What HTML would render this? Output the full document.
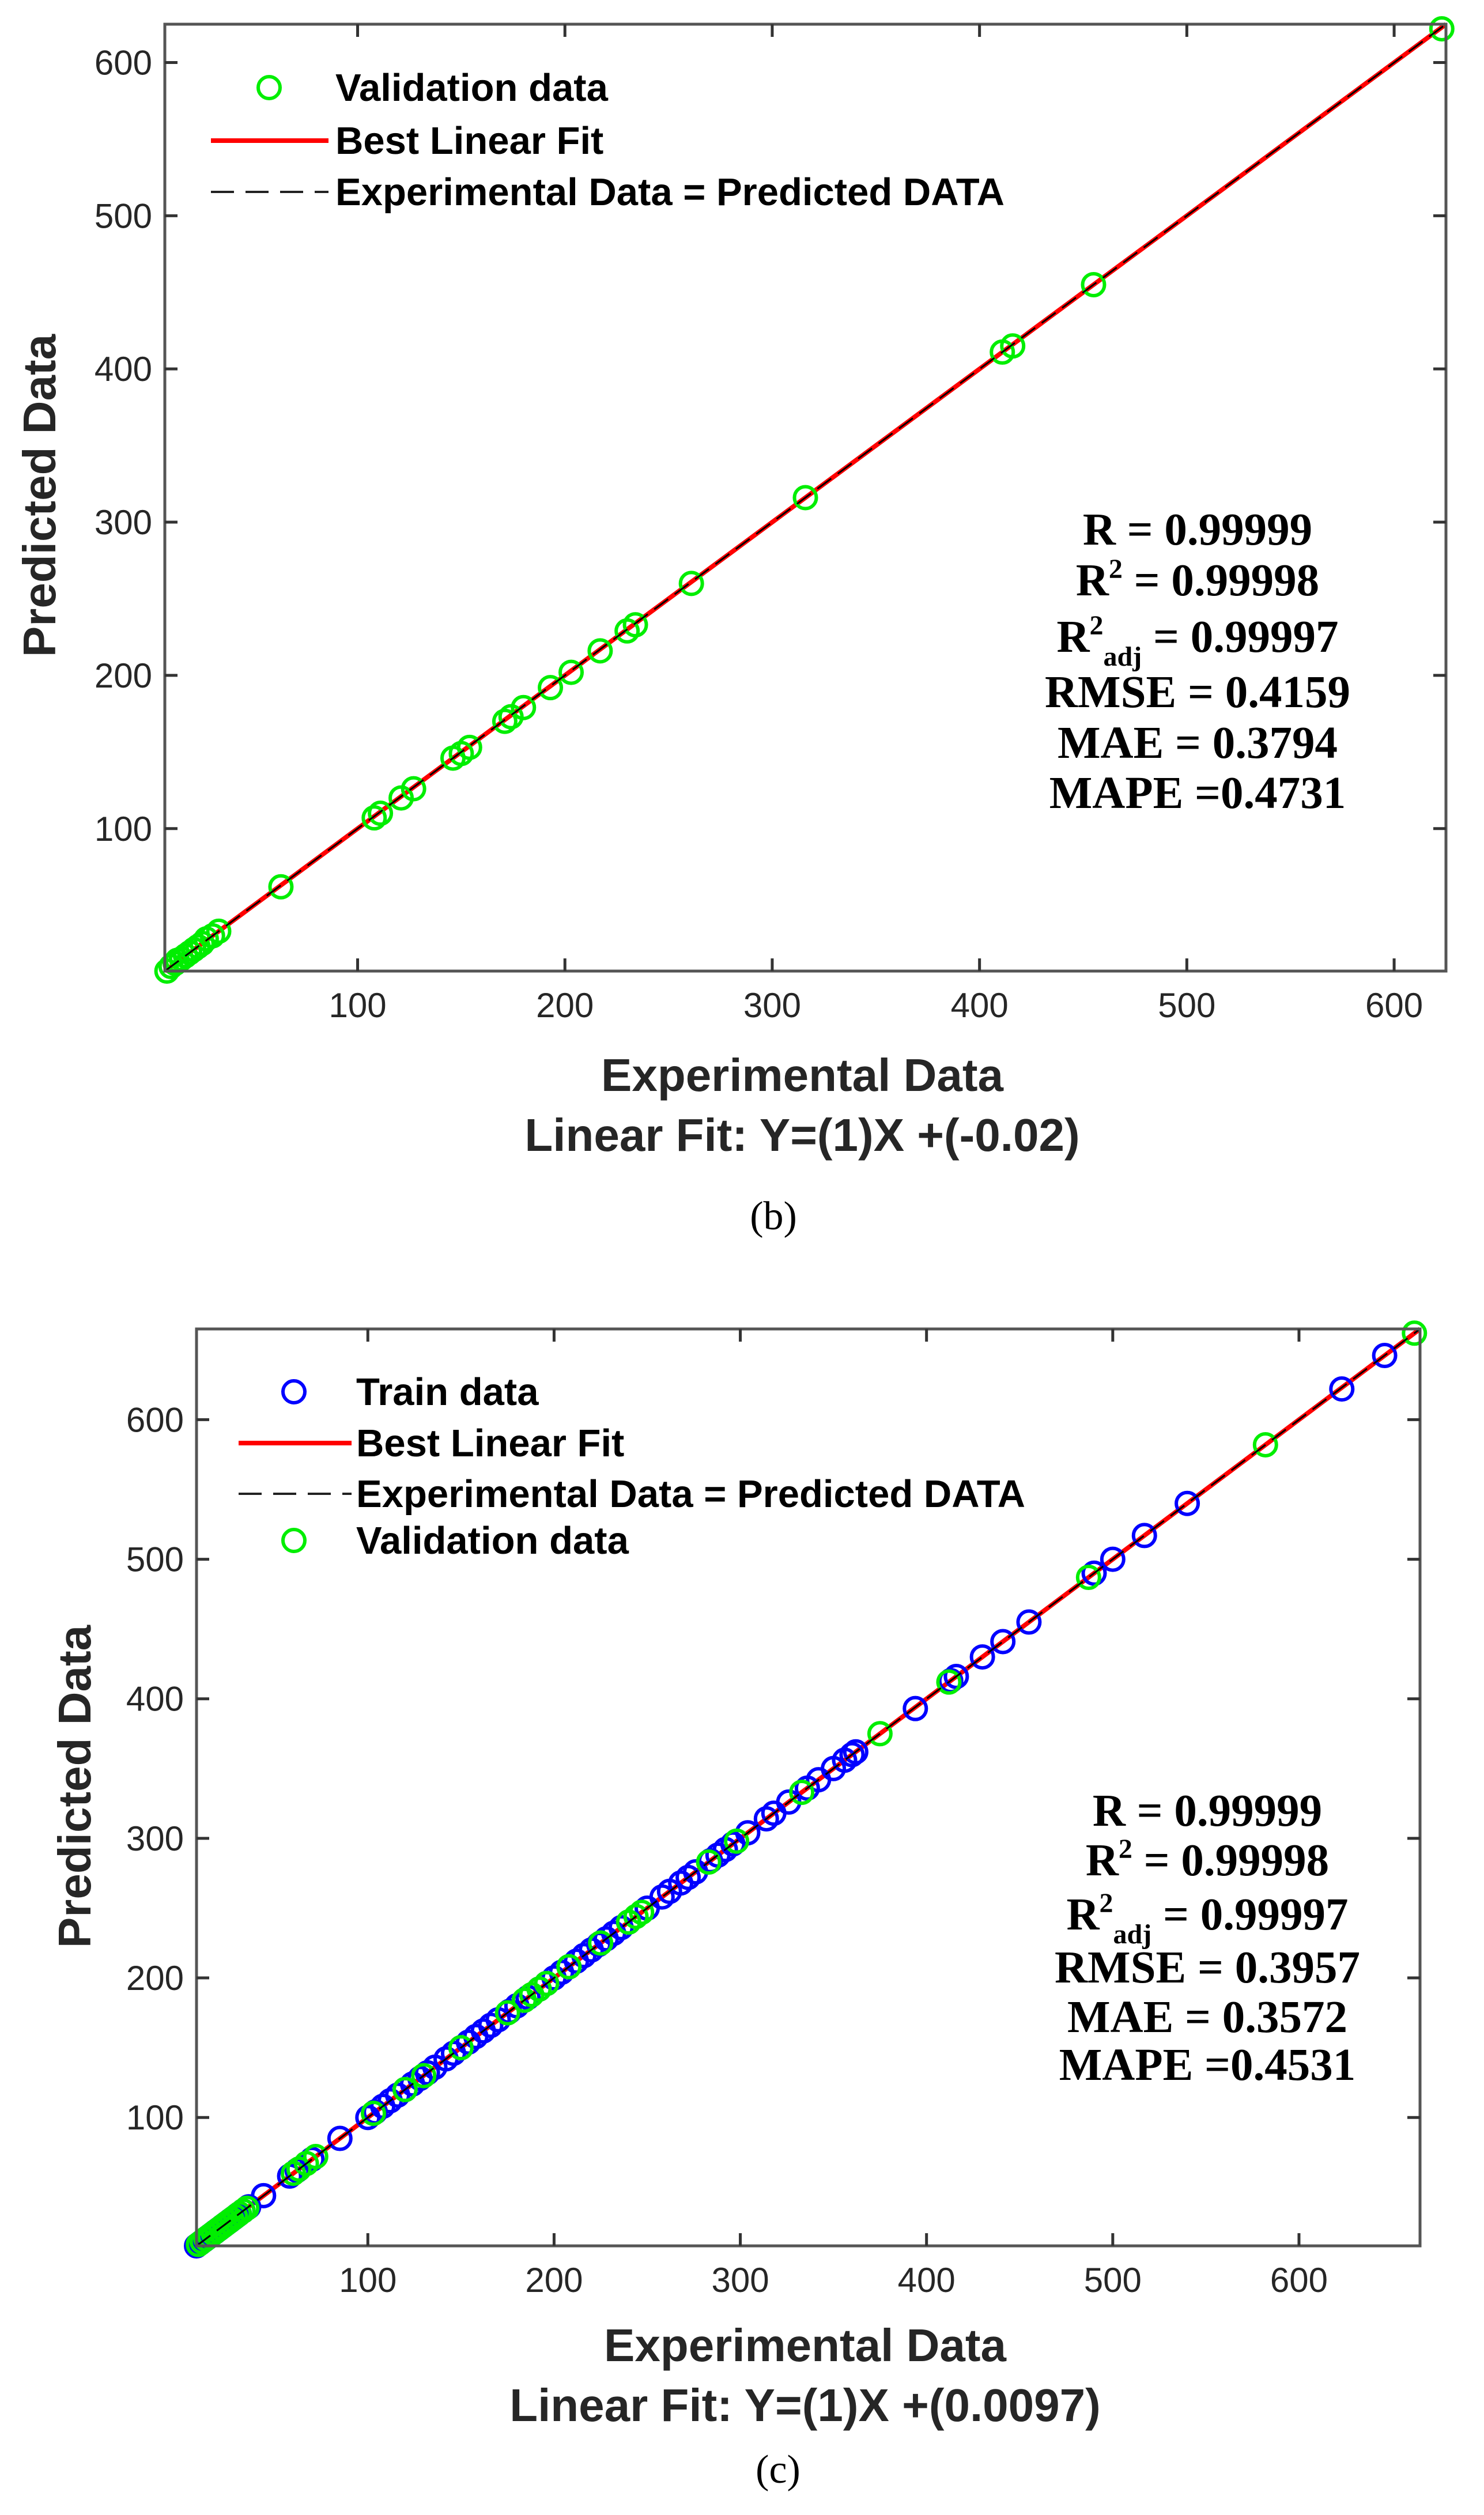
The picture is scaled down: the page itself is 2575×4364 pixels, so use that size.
<!DOCTYPE html>
<html><head><meta charset="utf-8"><style>
html,body{margin:0;padding:0;background:#fff;}
svg{display:block;}
.tick{font-family:"Liberation Sans",sans-serif;font-size:60px;fill:#262626;}
.axl{font-family:"Liberation Sans",sans-serif;font-size:80px;font-weight:bold;fill:#262626;}
.leg{font-family:"Liberation Sans",sans-serif;font-size:67px;font-weight:bold;fill:#000;}
.st{font-family:"Liberation Serif",serif;font-size:79px;font-weight:bold;fill:#000;}
.cap{font-family:"Liberation Serif",serif;font-size:70px;fill:#000;}
</style></head><body>
<svg id="fig" width="2575" height="4364" viewBox="0 0 2575 4364" xmlns="http://www.w3.org/2000/svg">
<g id="chartB"></g>
<g id="chartC"></g>
</svg>
<script>
// ---- Chart (b) data ----
const bTicks = [100,200,300,400,500,600];
const bValX = [8,10,12,13,15,17,19,21,23,25,27,30,33,63,108,111,121,127,146,150,154,171,174,180,193,203,217,230,234,261,316,411,416,455,623];
const bValY = [7,10,12,14,15,17,19,21,23,25,28,30,33,62,107,110,120,126,146,149,153,170,173,179,192,202,216,229,233,260,316,411,415,455,622];
const bStats = ["R = 0.99999","R2 = 0.99998","R2adj = 0.99997","RMSE = 0.4159","MAE = 0.3794","MAPE =0.4731"];
// ---- Chart (c) data ----
const cTicks = [100,200,300,400,500,600];
const cTrainX = [8,10,12,14,16,18,20,22,24,26,28,30,33,36,44,58,62,70,85,100,104,108,112,116,120,124,128,132,136,142,146,150,154,158,162,166,170,176,180,186,192,196,200,204,208,212,216,220,224,228,232,236,240,250,258,262,268,272,276,284,288,292,296,304,314,318,326,336,342,350,356,360,362,394,413,416,430,441,455,490,500,517,540,623,646];
const cTrainY = [8,10,12,14,16,18,20,22,24,26,28,30,33,36,44,58,62,70,85,100,104,108,112,116,120,124,128,132,136,142,146,150,154,158,162,166,170,176,180,186,192,196,200,204,208,212,216,220,224,228,232,236,240,250,258,262,268,272,276,284,288,292,296,304,314,318,326,336,342,350,356,360,362,393,413,416,430,441,455,490,500,517,540,622,646];
const cValX = [9,11,13,15,17,19,21,23,25,27,29,31,33,35,60,63,67,72,103,120,130,150,175,184,188,192,196,208,225,240,244,247,283,298,333,375,412,487,582,662];
const cValY = [9,11,13,15,17,19,21,23,25,27,29,31,33,35,60,63,67,72,103,120,130,150,175,184,188,192,196,208,225,240,244,247,283,298,333,375,412,487,582,662];
const cStats = ["R = 0.99999","R2 = 0.99998","R2adj = 0.99997","RMSE = 0.3957","MAE = 0.3572","MAPE =0.4531"];

const NS="http://www.w3.org/2000/svg";
function mk(parent,tag,attrs,text){const e=document.createElementNS(NS,tag);for(const k in attrs)e.setAttribute(k,attrs[k]);if(text!==undefined)e.textContent=text;parent.appendChild(e);return e;}

function drawChart(g,cfg){
  const {L,R,T,B,min,max}=cfg;
  const sx=v=>L+(v-min)/(max-min)*(R-L);
  const sy=v=>B-(v-min)/(max-min)*(B-T);
  const red=mk(g,'line',{x1:sx(min),y1:sy(min),x2:sx(max),y2:sy(max),stroke:'#ff0000','stroke-width':8});
  
  
  cfg.series.forEach(s=>{
    s.xs.forEach((x,i)=>{
      const c=mk(g,'circle',{cx:sx(x),cy:sy(s.ys[i]),r:19,fill:'none',stroke:s.color,'stroke-width':6});
      
      
    });
  });
  const blk=mk(g,'line',{x1:sx(min),y1:sy(min),x2:sx(max),y2:sy(max),stroke:'#000','stroke-width':3,'stroke-dasharray':'30 14'});
  
  
  const box=mk(g,'rect',{x:L,y:T,width:R-L,height:B-T,fill:'none',stroke:'#555','stroke-width':5});
  
  
  cfg.ticks.forEach(t=>{
    const x=sx(t),y=sy(t);
    mk(g,'line',{x1:x,y1:B,x2:x,y2:B-22,stroke:'#333','stroke-width':5});
    mk(g,'line',{x1:x,y1:T,x2:x,y2:T+22,stroke:'#333','stroke-width':5});
    mk(g,'line',{x1:L,y1:y,x2:L+22,y2:y,stroke:'#333','stroke-width':5});
    mk(g,'line',{x1:R,y1:y,x2:R-22,y2:y,stroke:'#333','stroke-width':5});
    const xl=mk(g,'text',{x:x,y:B+80,'text-anchor':'middle',class:'tick'},String(t));
    
    
    const yl=mk(g,'text',{x:L-22,y:y+21,'text-anchor':'end',class:'tick'},String(t));
    
    
  });
  const xt=mk(g,'text',{x:cfg.xlabX,y:cfg.xlabY,'text-anchor':'middle',class:'axl'},'Experimental Data');
  
  
  const lf=mk(g,'text',{x:cfg.xlabX,y:cfg.xlabY+104,'text-anchor':'middle',class:'axl'},cfg.fit);
  
  
  const yt=mk(g,'text',{x:0,y:0,'text-anchor':'middle',class:'axl',transform:`translate(${cfg.ylabX},${cfg.ylabY}) rotate(-90)`},'Predicted Data');
  
  
  const cap=mk(g,'text',{x:cfg.capX,y:cfg.capY,'text-anchor':'middle',class:'cap'},cfg.cap);
  
  
  cfg.legend.forEach((e,i)=>{
    const y=cfg.legY[i];
    if(e.type==='circle') mk(g,'circle',{cx:cfg.legMX,cy:y,r:19,fill:'none',stroke:e.color,'stroke-width':6});
    else if(e.type==='line') mk(g,'line',{x1:cfg.legL1,y1:y,x2:cfg.legL2,y2:y,stroke:'#ff0000','stroke-width':8});
    else mk(g,'line',{x1:cfg.legL1,y1:y,x2:cfg.legL2,y2:y,stroke:'#222','stroke-width':4,'stroke-dasharray':'40 20'});
    const t=mk(g,'text',{x:cfg.legTX,y:y+23,class:'leg'},e.label);
    
    
  });
  cfg.stats.forEach((s,i)=>{
    const y=cfg.statY[i];
    const t=mk(g,'text',{x:cfg.statX,y:y+27,'text-anchor':'middle',class:'st'});
    
    
    if(s.startsWith('R2adj')){
      t.appendChild(document.createTextNode('R'));
      mk(t,'tspan',{'font-size':'48','dy':'-30'},'2');
      mk(t,'tspan',{'font-size':'48','dy':'54'},'adj');
      mk(t,'tspan',{'dy':'-24'},s.slice(5));
    } else if(s.startsWith('R2')){
      t.appendChild(document.createTextNode('R'));
      mk(t,'tspan',{'font-size':'48','dy':'-30'},'2');
      mk(t,'tspan',{'dy':'30'},s.slice(2));
    } else t.textContent=s;
  });
}

drawChart(document.getElementById('chartB'),{
  L:286,R:2509,T:42,B:1685,min:7,max:625,ticks:bTicks,
  series:[{name:'validation',xs:bValX,ys:bValY,color:'#00ee00'}],
  xlabX:1392,xlabY:1893,ylabX:96,ylabY:860,fit:'Linear Fit: Y=(1)X +(-0.02)',
  capX:1342,capY:2133,cap:'(b)',
  legend:[{type:'circle',color:'#00ee00',label:'Validation data'},{type:'line',label:'Best Linear Fit'},{type:'dash',label:'Experimental Data = Predicted DATA'}],
  legY:[152,244,333],legMX:467,legL1:366,legL2:570,legTX:582,
  stats:bStats,statY:[918,1006,1104,1200,1288,1375],statX:2078
});
drawChart(document.getElementById('chartC'),{
  L:341,R:2464,T:2306,B:3897,min:8,max:665,ticks:cTicks,
  series:[{name:'train',xs:cTrainX,ys:cTrainY,color:'#0000ff'},{name:'validation',xs:cValX,ys:cValY,color:'#00ee00'}],
  xlabX:1397,xlabY:4097,ylabX:157,ylabY:3100,fit:'Linear Fit: Y=(1)X +(0.0097)',
  capX:1350,capY:4308,cap:'(c)',
  legend:[{type:'circle',color:'#0000ff',label:'Train data'},{type:'line',label:'Best Linear Fit'},{type:'dash',label:'Experimental Data = Predicted DATA'},{type:'circle',color:'#00ee00',label:'Validation data'}],
  legY:[2415,2504,2592,2673],legMX:510,legL1:414,legL2:610,legTX:618,
  stats:cStats,statY:[3141,3227,3321,3413,3499,3582],statX:2095
});
</script>
</body></html>
